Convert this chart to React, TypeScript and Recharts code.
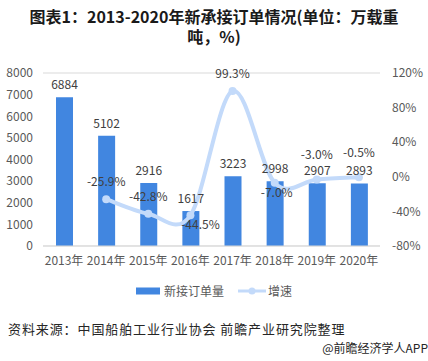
import React from 'react';
import { ComposedChart, Bar, Line, XAxis, YAxis, CartesianGrid, Legend, LabelList } from 'recharts';

const categories = ['2013年', '2014年', '2015年', '2016年', '2017年', '2018年', '2019年', '2020年'];
const orders = [6884, 5102, 2916, 1617, 3223, 2998, 2907, 2893];
const growth: (number | null)[] = [null, -25.9, -42.8, -44.5, 99.3, -7.0, -3.0, -0.5];
const leftTicks = [0, 1000, 2000, 3000, 4000, 5000, 6000, 7000, 8000];
const rightTicks = [-80, -60, -40, -20, 0, 20, 40, 60, 80, 100, 120];

const data = categories.map((c, i) => ({ name: c, orders: orders[i], growth: growth[i] }));

const FONT = '"Noto Sans CJK SC", "Noto Sans", sans-serif';
const BAR = '#4186e0';
const LINE = '#c3dafa';

// Excel-like smooth curve (Bezier with 1/6 tension)
const excelCurve: any = (context: any) => {
  let pts: number[][] = [];
  return {
    areaStart() {},
    areaEnd() {},
    lineStart() { pts = []; },
    point(x: number, y: number) { pts.push([+x, +y]); },
    lineEnd() {
      const n = pts.length;
      if (n === 0) return;
      context.moveTo(pts[0][0], pts[0][1]);
      if (n === 1) return;
      for (let i = 0; i < n - 1; i++) {
        const p0 = pts[Math.max(0, i - 1)];
        const p1 = pts[i];
        const p2 = pts[i + 1];
        const p3 = pts[Math.min(n - 1, i + 2)];
        const c1x = p1[0] + (p2[0] - p0[0]) / 6;
        const c1y = p1[1] + (p2[1] - p0[1]) / 6;
        const c2x = p2[0] - (p3[0] - p1[0]) / 6;
        const c2y = p2[1] - (p3[1] - p1[1]) / 6;
        context.bezierCurveTo(c1x, c1y, c2x, c2y, p2[0], p2[1]);
      }
    },
  };
};

const below = new Set([3, 5]);

const GrowthLabel = (props: any) => {
  const { x, y, value, index } = props;
  if (value === null || value === undefined) return null;
  const isBelow = below.has(index);
  const dx = index === 3 ? 10 : index === 5 ? 2 : 0;
  const dy = isBelow ? 14 : index >= 6 ? -20 : -13;
  return (
    <text x={x + dx} y={y + dy} textAnchor="middle" fill="#404040" fontSize={12} fontFamily={FONT}>
      {value.toFixed(1)}%
    </text>
  );
};

const LegendContent = () => (
  <div style={{ display: 'flex', justifyContent: 'center', alignItems: 'center', fontFamily: FONT, fontSize: 12, color: '#595959', marginTop: 6 }}>
    <svg width={24} height={8} style={{ marginRight: 4 }}>
      <rect x={0} y={0.5} width={24} height={7} fill={BAR} />
    </svg>
    <span style={{ marginRight: 14 }}>新接订单量</span>
    <svg width={28} height={8} style={{ marginRight: 2 }}>
      <line x1={0} y1={4} x2={28} y2={4} stroke={LINE} strokeWidth={3} />
      <circle cx={14} cy={4} r={3.5} fill={LINE} />
    </svg>
    <span>增速</span>
  </div>
);

export default function App() {
  return (
    <div style={{ position: 'absolute', left: 0, top: 0, width: 428, height: 361, background: '#fff', fontFamily: FONT }}>
      <div style={{ position: 'absolute', top: 7, left: 0, width: 428, textAlign: 'center', fontWeight: 'bold', fontSize: 16, lineHeight: '19px', color: '#1a1a1a' }}>
        图表1：2013-2020年新承接订单情况(单位：万载重
      </div>
      <div style={{ position: 'absolute', top: 27, left: 0, width: 428, textAlign: 'center', fontWeight: 'bold', fontSize: 16, lineHeight: '19px', color: '#1a1a1a' }}>
        吨，%)
      </div>
      <ComposedChart
        width={428}
        height={300}
        data={data}
        margin={{ top: 73, right: 0, bottom: 0, left: 0 }}
        style={{ position: 'absolute', top: 0, left: 0 }}
      >
        <CartesianGrid vertical={false} stroke="#d9d9d9" />
        <XAxis
          dataKey="name"
          height={30}
          tickSize={0}
          tickMargin={10}
          axisLine={{ stroke: '#d9d9d9' }}
          tick={{ fill: '#595959', fontSize: 12, fontFamily: FONT }}
          interval={0}
        />
        <YAxis
          yAxisId="left"
          width={43}
          domain={[0, 8000]}
          ticks={leftTicks}
          tickSize={0}
          tickMargin={10}
          axisLine={false}
          tick={{ fill: '#595959', fontSize: 12, fontFamily: FONT }}
        />
        <YAxis
          yAxisId="right"
          orientation="right"
          width={48}
          domain={[-80, 120]}
          ticks={rightTicks}
          tickFormatter={(v: number) => `${v}%`}
          tickSize={0}
          tickMargin={12}
          axisLine={false}
          tick={{ fill: '#595959', fontSize: 12, fontFamily: FONT, textAnchor: 'start' }}
        />
        <Legend verticalAlign="bottom" height={24} content={LegendContent} />
        <Bar yAxisId="left" dataKey="orders" fill={BAR} barSize={17} isAnimationActive={false}>
          <LabelList dataKey="orders" position="top" offset={8} fill="#404040" fontSize={12} fontFamily={FONT} />
        </Bar>
        <Line
          yAxisId="right"
          dataKey="growth"
          type={excelCurve}
          stroke={LINE}
          strokeWidth={4}
          dot={{ r: 4, fill: LINE, stroke: LINE, strokeWidth: 0 }}
          activeDot={false}
          isAnimationActive={false}
        >
          <LabelList dataKey="growth" content={GrowthLabel} />
        </Line>
      </ComposedChart>
      <div style={{ position: 'absolute', top: 319, left: 8, fontSize: 13, letterSpacing: 0.9, color: '#262626', whiteSpace: 'nowrap' }}>
        资料来源：中国船舶工业行业协会 前瞻产业研究院整理
      </div>
      <div style={{ position: 'absolute', top: 339, right: 0, fontSize: 12, color: '#262626', whiteSpace: 'nowrap' }}>
        @前瞻经济学人APP
      </div>
    </div>
  );
}
